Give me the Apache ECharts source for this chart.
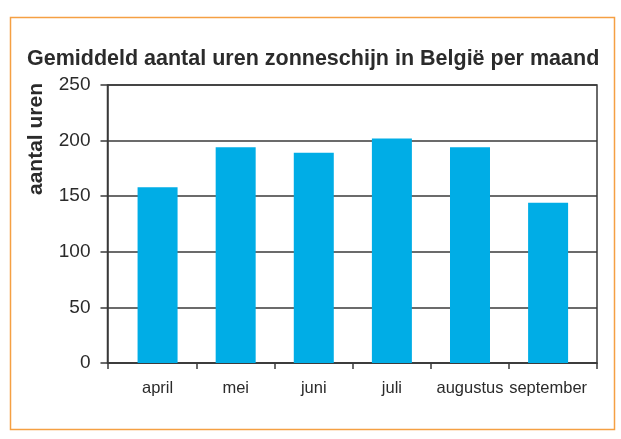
<!DOCTYPE html>
<html>
<head>
<meta charset="utf-8">
<script src="https://cdn.jsdelivr.net/npm/echarts@6/dist/echarts.min.js"></script>
<style>
  html, body { margin: 0; padding: 0; background: #ffffff; }
  #chart { width: 621px; height: 439px; }
</style>
</head>
<body>
<div id="chart"></div>
<script>
// Average monthly sunshine hours in Belgium
const months = ['april', 'mei', 'juni', 'juli', 'augustus', 'september'];
const hours = [158, 194, 189, 202, 194, 144];
const yTicks = [0, 50, 100, 150, 200, 250];

const titleText = 'Gemiddeld aantal uren zonneschijn in België per maand';
const yName = 'aantal uren';

// Months sit on a continuous axis: month i occupies the band [i, i+1],
// with a little extra room left of the first and right of the last band.
const xMin = -0.141;
const xMax = 6.126;
const bandEdges = months.slice(1).map((m, i) => i + 1);
const bandCenters = months.map((m, i) => i + 0.5);

const fontFamily = '"Liberation Sans", Arial, sans-serif';
const ink = '#2b2b2b';
const lineColor = '#3a3a3a';

const chart = echarts.init(document.getElementById('chart'), null, { renderer: 'canvas' });

chart.setOption({
  animation: false,
  backgroundColor: '#ffffff',
  title: {
    text: titleText,
    left: 22,
    top: 43,
    textStyle: { fontFamily: fontFamily, fontWeight: 'bold', fontSize: 21.5, color: ink }
  },
  graphic: [
    {
      type: 'rect',
      shape: { x: 10.5, y: 17.5, width: 604, height: 412 },
      style: { fill: 'none', stroke: '#f5a043', lineWidth: 1.5 },
      silent: true
    },
    {
      type: 'text',
      x: 36,
      y: 139,
      rotation: Math.PI / 2,
      style: {
        text: yName,
        fontFamily: fontFamily,
        fontWeight: 'bold',
        fontSize: 21,
        fill: ink,
        align: 'center',
        verticalAlign: 'middle'
      },
      silent: true
    }
  ],
  grid: {
    left: 107.5,
    right: 24,
    top: 85,
    bottom: 76,
    show: true,
    borderColor: lineColor,
    borderWidth: 1.5,
    backgroundColor: 'transparent'
  },
  xAxis: {
    type: 'value',
    min: xMin,
    max: xMax,
    axisLine: { show: true, lineStyle: { color: lineColor, width: 1.5 } },
    axisTick: {
      show: true,
      length: 6,
      customValues: [xMin].concat(bandEdges, [xMax]),
      lineStyle: { color: lineColor, width: 1.5 }
    },
    axisLabel: {
      show: true,
      customValues: bandCenters,
      margin: 17,
      fontFamily: fontFamily,
      fontSize: 16.5,
      color: ink,
      formatter: function (v) { return months[Math.round(v - 0.5)]; }
    },
    splitLine: { show: false }
  },
  yAxis: {
    type: 'value',
    min: yTicks[0],
    max: yTicks[yTicks.length - 1],
    interval: yTicks[1] - yTicks[0],
    axisLine: { show: true, onZero: false, lineStyle: { color: lineColor, width: 1.5 } },
    axisTick: { show: true, length: 7, lineStyle: { color: lineColor, width: 1.5 } },
    axisLabel: {
      margin: 17,
      fontFamily: fontFamily,
      fontSize: 19,
      color: ink
    },
    splitLine: { show: true, lineStyle: { color: lineColor, width: 1.5 } }
  },
  series: [
    {
      type: 'bar',
      barWidth: 40,
      itemStyle: { color: '#00ade6' },
      data: months.map((m, i) => [bandCenters[i], hours[i]])
    }
  ]
});
</script>
</body>
</html>
